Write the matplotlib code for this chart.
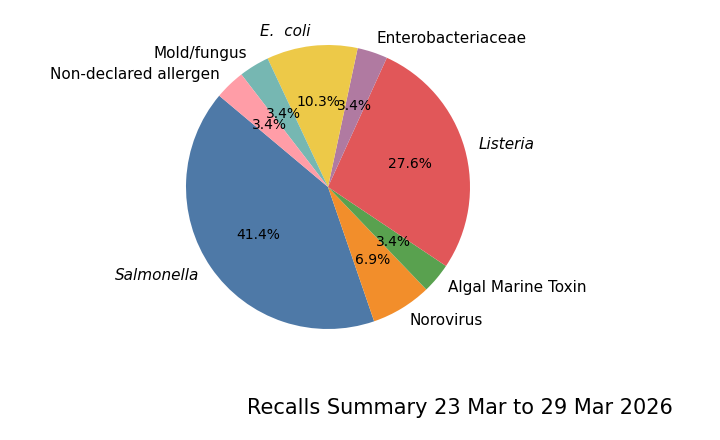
import matplotlib
matplotlib.use("Agg")
import matplotlib.pyplot as plt

labels = ["Salmonella", "Norovirus", "Algal Marine Toxin", "Listeria",
          "Enterobacteriaceae", "E.  coli", "Mold/fungus", "Non-declared allergen"]
counts = [12, 2, 1, 8, 1, 3, 1, 1]
colors = ["#4e79a7", "#f28e2b", "#59a14f", "#e15759", "#b07aa1", "#edc948", "#76b7b2", "#ff9da7"]
italic = {"Salmonella", "Listeria", "E.  coli"}

fig = plt.figure(figsize=(7.2, 4.4), dpi=100)
ax = fig.add_axes([(328-142)/720, (253-142)/440, 284/720, 284/440])
wedges, texts, autotexts = ax.pie(counts, labels=labels, colors=colors, autopct="%1.1f%%",
                                  startangle=140, counterclock=True,
                                  textprops={"fontsize": 11})
for t in texts:
    if t.get_text() in italic:
        t.set_style("italic")
for a in autotexts:
    a.set_fontsize(10)
ax.set_xlim(-1, 1)
ax.set_ylim(-1, 1)
ax.set_aspect("equal")
fig.text(460/720, 1-408/440, "Recalls Summary 23 Mar to 29 Mar 2026", fontsize=15,
         ha="center", va="center")
fig.savefig("out.png", dpi=100)
